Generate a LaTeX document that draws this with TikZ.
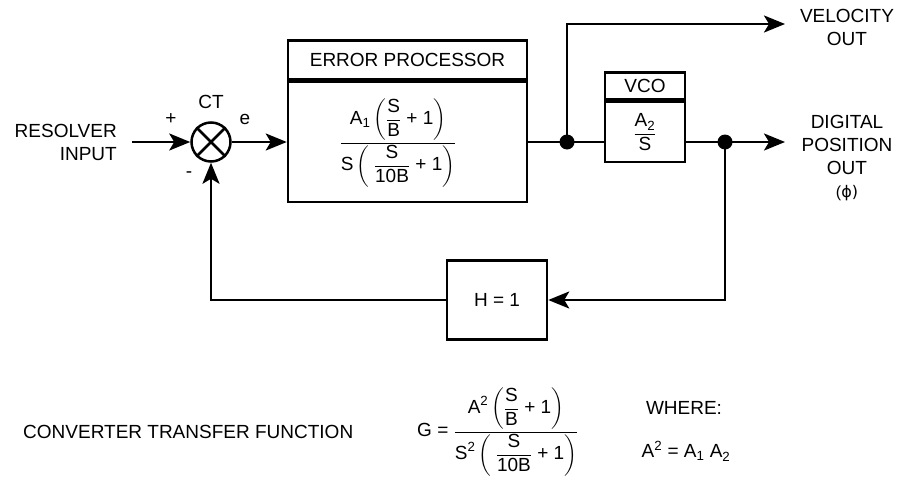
\documentclass[tikz,border=0pt]{standalone}
\usepackage{amsmath}
\usepackage{fontspec}
\setmainfont{Liberation Sans}
\newfontfamily\dejavu{DejaVu Sans}
\usetikzlibrary{arrows.meta, positioning, calc}
\newcommand{\tf}[1]{\text{#1}}

\begin{document}
\begin{tikzpicture}[
				x=1pt, y=-1pt,
				font=\fontsize{19}{23}\selectfont,
				blockbox/.style={draw, line width=2.5pt, inner sep=0pt},
				lbl/.style={inner sep=0pt},
				frm/.style={inner sep=0pt, font=\fontsize{19}{22}\selectfont},
				sumnode/.style={draw, circle, line width=2.5pt, minimum size=39pt, inner sep=0pt},
				junction/.style={circle, fill, inner sep=0pt, minimum size=15pt},
				wire/.style={line width=2.5pt},
				arr/.style={-{Stealth[length=21pt, width=17pt, inset=5pt]}, line width=2.5pt}
			]
				\useasboundingbox (0,0) rectangle (901,479);

				% forward path
				\node[lbl, align=right, anchor=east] (resin) at (117,142) {RESOLVER\\INPUT};
				\coordinate (inp) at (132,142);
				\node[sumnode] (sum) at (211,142) {};
				\draw[wire] (sum.north west) -- (sum.south east) (sum.north east) -- (sum.south west);
				\node[lbl] (plus) at (171,119) {+};
				\node[lbl] (ct) at (211,102) {CT};
				\node[lbl] (err) at (245,119) {e};
				\node[lbl] (minus) at (189,175) {-};

				\node[blockbox, minimum width=239pt, minimum height=120pt] (ep) at (407.5,142) {};
				\node[frm] (epfn) at (398,143)
					{$\dfrac{\tf{A}_{\tf{1}}\left(\dfrac{\tf{S}}{\tf{B}}\ \tf{+ 1}\right)}{\tf{S}\left(\;\dfrac{\tf{S}}{\tf{10B}}\ \tf{+ 1}\right)}$};
				\node[blockbox, minimum width=239pt, minimum height=39pt, anchor=south] (eph) at (ep.north) {ERROR PROCESSOR};

				\node[junction] (d1) at (567,142) {};
				\node[blockbox, frm, minimum width=80pt, minimum height=60pt] (vco) at (645,132) {$\dfrac{\tf{A}_{\tf{2}}}{\tf{S}}$};
				\node[blockbox, minimum width=80pt, minimum height=27pt, anchor=south] (vcoh) at (vco.north) {VCO};
				\node[junction] (d2) at (725,142) {};

				\coordinate (velend) at (785,24);
				\coordinate (posend) at (785,142);
				\node[lbl, align=center] (velout) at (847,27) {VELOCITY\\OUT};
				\node[lbl, align=center] (posout) at (847,158) {DIGITAL\\POSITION\\OUT\\{\fontsize{16}{19}\selectfont(\dejavu ϕ)}};

				\draw[arr] (inp) -- (sum);
				\draw[arr] (sum) -- (ep);
				\draw[wire] (ep.east |- d1) -- (d1.center) -- (vco.west |- d1);
				\draw[arr] (d1.center) |- (velend);
				\draw[wire] (vco.east |- d2) -- (d2.center);
				\draw[arr] (d2.center) -- (posend);

				% feedback path
				\node[blockbox, minimum width=100pt, minimum height=79pt] (hblk) at (497,300) {H = 1};
				\draw[arr] (d2.center) |- (hblk.east);
				\draw[arr] (hblk.west) -| (sum.south);

				% transfer function
				\node[lbl, anchor=west] (ctf) at (23,432) {CONVERTER TRANSFER FUNCTION};
				\node[frm, anchor=west] (gfun) at (417,432)
					{$\tf{G = }\dfrac{\tf{A}^{\tf{2}}\left(\dfrac{\tf{S}}{\tf{B}}\ \tf{+ 1}\right)}{\tf{S}^{\tf{2}}\left(\;\dfrac{\tf{S}}{\tf{10B}}\ \tf{+ 1}\right)}$};
				\node[lbl] (where) at (684,408) {WHERE:};
				\node[frm] (adef) at (686,451) {$\tf{A}^{\tf{2}}\tf{ = A}_{\tf{1}}\ \tf{A}_{\tf{2}}$};
			\end{tikzpicture}
\end{document}
